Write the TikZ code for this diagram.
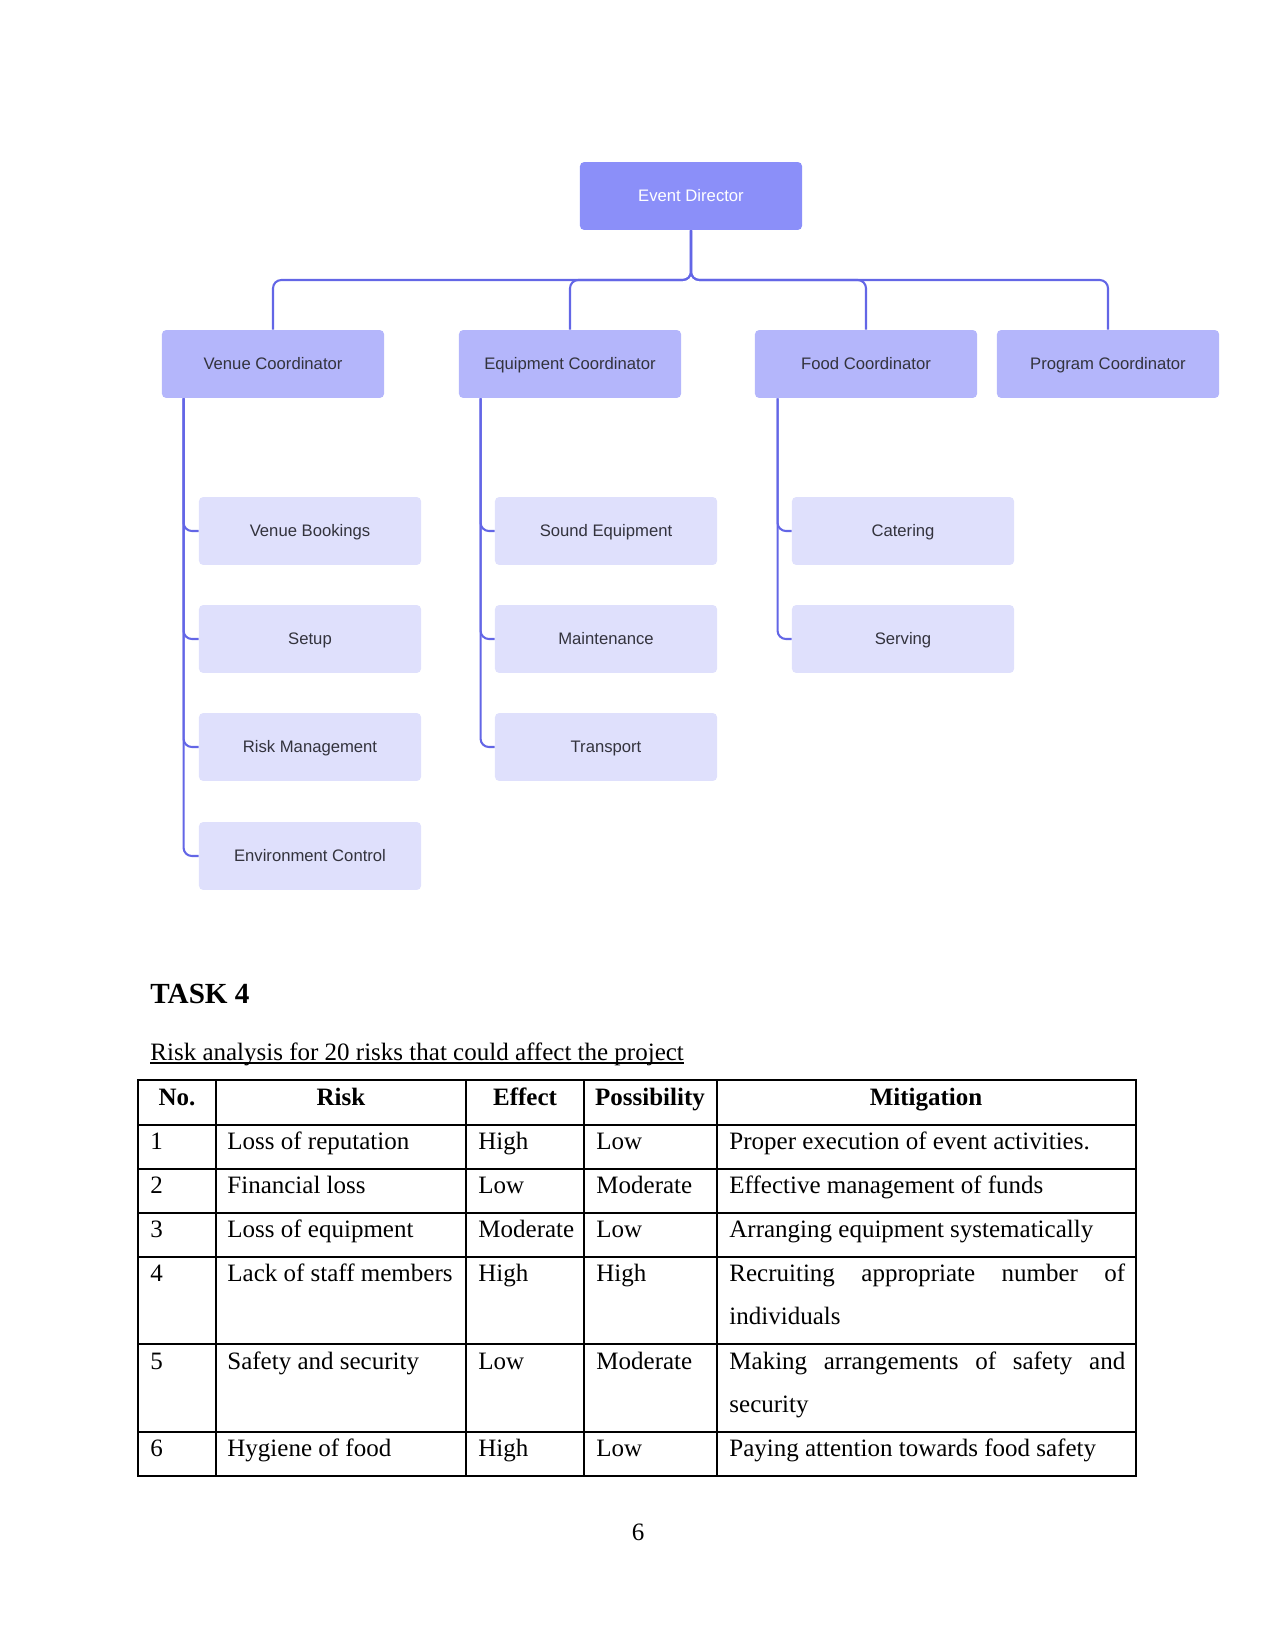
\documentclass[tikz,border=0pt]{standalone}
\usepackage{fontspec}
\setmainfont{Liberation Serif}
\newfontfamily\chartfont{Liberation Sans}
\usetikzlibrary{calc}

\definecolor{directorfill}{HTML}{8B8FF9}
\definecolor{leadfill}{HTML}{B4B6FB}
\definecolor{taskfill}{HTML}{DFE0FC}
\definecolor{linkblue}{HTML}{6366E6}
\definecolor{chartgray}{HTML}{33333D}

\begin{document}
\begin{tikzpicture}[
  x=0.48pt, y=-0.48pt,
  chartbox/.style={rounded corners=2pt, minimum width=106.6pt, minimum height=32.6pt, inner sep=2pt, text height=1.6ex, text depth=0.4ex, font=\chartfont\fontsize{8}{10}\selectfont, text=chartgray},
  director/.style={chartbox, fill=directorfill, text=white},
  lead/.style={chartbox, fill=leadfill},
  taskbox/.style={chartbox, fill=taskfill},
  link/.style={draw=linkblue, line width=1pt, rounded corners=4pt},
  cell/.style={anchor=base west, inner sep=0pt, font=\fontsize{12}{14}\selectfont},
  head/.style={anchor=base, inner sep=0pt, font=\fontsize{12}{14}\selectfont\bfseries},
  rule/.style={line width=0.6pt}
]
\useasboundingbox (0,0) rectangle (1275,1650);

% Org chart
\node[director] (ed) at (691,196) {Event Director};
\coordinate (bus) at (0,280);

\node[lead] (vc) at (273,364) {Venue Coordinator};
\node[lead] (ec) at (570,364) {Equipment Coordinator};
\node[lead] (fc) at (866,364) {Food Coordinator};
\node[lead] (pc) at (1108,364) {Program Coordinator};

\draw[link] (ed.south) -- (ed.south |- bus) -| (vc.north);
\draw[link] (ed.south) -- (ed.south |- bus) -| (ec.north);
\draw[link] (ed.south) -- (ed.south |- bus) -| (fc.north);
\draw[link] (ed.south) -- (ed.south |- bus) -| (pc.north);

% Venue tasks
\node[taskbox] (vb) at (310,531) {Venue Bookings};
\node[taskbox] (su) at (310,639) {Setup};
\node[taskbox] (rm) at (310,747) {Risk Management};
\node[taskbox] (envc) at (310,856) {Environment Control};

% Equipment tasks
\node[taskbox] (se) at (606,531) {Sound Equipment};
\node[taskbox] (mt) at (606,639) {Maintenance};
\node[taskbox] (tr) at (606,747) {Transport};

% Food tasks
\node[taskbox] (ca) at (903,531) {Catering};
\node[taskbox] (sv) at (903,639) {Serving};

\draw[link] ($(vc.south west)+(22,0)$) |- (vb.west);
\draw[link] ($(vc.south west)+(22,0)$) |- (su.west);
\draw[link] ($(vc.south west)+(22,0)$) |- (rm.west);
\draw[link] ($(vc.south west)+(22,0)$) |- (envc.west);
\draw[link] ($(ec.south west)+(22,0)$) |- (se.west);
\draw[link] ($(ec.south west)+(22,0)$) |- (mt.west);
\draw[link] ($(ec.south west)+(22,0)$) |- (tr.west);
\draw[link] ($(fc.south west)+(23,0)$) |- (ca.west);
\draw[link] ($(fc.south west)+(23,0)$) |- (sv.west);

% Heading
\node[anchor=base west, inner sep=0pt, font=\fontsize{14}{16}\selectfont\bfseries] (task) at (150,1003) {TASK 4};
\node[cell] (sub) at (150,1060) {Risk analysis for 20 risks that could affect the project};
\draw[line width=0.5pt] ($(sub.base west)+(0,3)$) -- ($(sub.base east)+(0,3)$);

% Table rules
\draw[rule] (138,1080) rectangle (1136,1476);
\draw[rule] (216,1080) -- (216,1476);
\draw[rule] (466,1080) -- (466,1476);
\draw[rule] (584,1080) -- (584,1476);
\draw[rule] (717,1080) -- (717,1476);
\draw[rule] (138,1125) -- (1136,1125);
\draw[rule] (138,1169) -- (1136,1169);
\draw[rule] (138,1213) -- (1136,1213);
\draw[rule] (138,1257) -- (1136,1257);
\draw[rule] (138,1344) -- (1136,1344);
\draw[rule] (138,1432) -- (1136,1432);

% Header row
\node[head] (hno) at (177,1105) {No.};
\node[head] (hrisk) at (341,1105) {Risk};
\node[head] (heff) at (525,1105) {Effect};
\node[head] (hpos) at (650,1105) {Possibility};
\node[head] (hmit) at (926,1105) {Mitigation};

% Row 1
\node[cell] (n1) at (150,1149) {1};
\node[cell] (r1) at (227,1149) {Loss of reputation};
\node[cell] (e1) at (478,1149) {High};
\node[cell] (p1) at (596,1149) {Low};
\node[cell] (m1) at (729,1149) {Proper execution of event activities.};

% Row 2
\node[cell] (n2) at (150,1193) {2};
\node[cell] (r2) at (227,1193) {Financial loss};
\node[cell] (e2) at (478,1193) {Low};
\node[cell] (p2) at (596,1193) {Moderate};
\node[cell] (m2) at (729,1193) {Effective management of funds};

% Row 3
\node[cell] (n3) at (150,1237) {3};
\node[cell] (r3) at (227,1237) {Loss of equipment};
\node[cell] (e3) at (478,1237) {Moderate};
\node[cell] (p3) at (596,1237) {Low};
\node[cell] (m3) at (729,1237) {Arranging equipment systematically};

% Row 4
\node[cell] (n4) at (150,1281) {4};
\node[cell] (r4) at (227,1281) {Lack of staff members};
\node[cell] (e4) at (478,1281) {High};
\node[cell] (p4) at (596,1281) {High};
\node[cell] (m4) at (729,1281) {\makebox[190pt][s]{Recruiting appropriate number of}};
\node[cell] (m4b) at (729,1324) {individuals};

% Row 5
\node[cell] (n5) at (150,1369) {5};
\node[cell] (r5) at (227,1369) {Safety and security};
\node[cell] (e5) at (478,1369) {Low};
\node[cell] (p5) at (596,1369) {Moderate};
\node[cell] (m5) at (729,1369) {\makebox[190pt][s]{Making arrangements of safety and}};
\node[cell] (m5b) at (729,1412) {security};

% Row 6
\node[cell] (n6) at (150,1456) {6};
\node[cell] (r6) at (227,1456) {Hygiene of food};
\node[cell] (e6) at (478,1456) {High};
\node[cell] (p6) at (596,1456) {Low};
\node[cell] (m6) at (729,1456) {Paying attention towards food safety};

% Page number
\node[anchor=base, inner sep=0pt, font=\fontsize{12}{14}\selectfont] (page) at (638,1540) {6};

\end{tikzpicture}
\end{document}
